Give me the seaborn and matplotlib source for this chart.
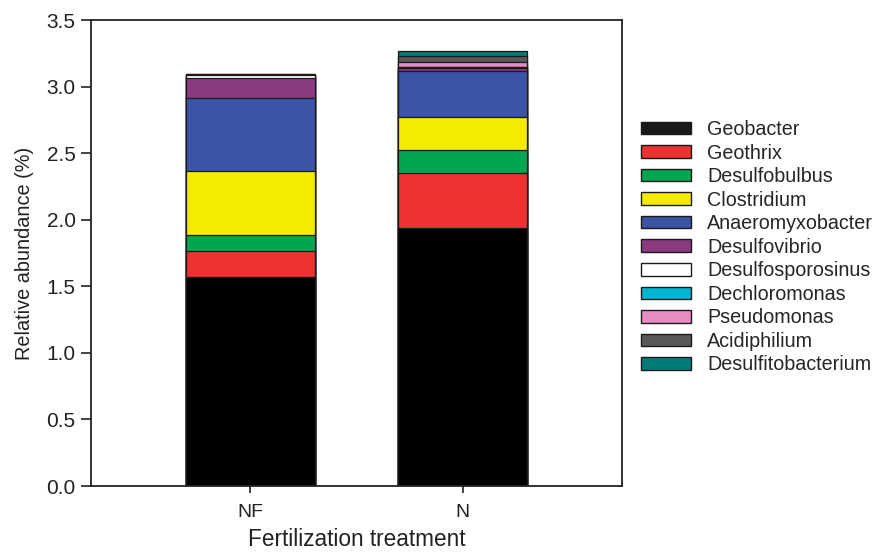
import numpy as np
import pandas as pd
import matplotlib
matplotlib.use("Agg")
import matplotlib.pyplot as plt
from matplotlib.patches import Patch
import seaborn as sns

treatments = ["NF", "N"]
genera = ["Geobacter", "Geothrix", "Desulfobulbus", "Clostridium", "Anaeromyxobacter",
          "Desulfovibrio", "Desulfosporosinus", "Dechloromonas", "Pseudomonas",
          "Acidiphilium", "Desulfitobacterium"]
nf_values = [1.571, 0.192, 0.124, 0.476, 0.554, 0.149, 0.020, 0.002, 0.002, 0.002, 0.002]
n_values = [1.940, 0.411, 0.172, 0.247, 0.347, 0.025, 0.004, 0.003, 0.037, 0.045, 0.035]
colors = ["#000000", "#EE3132", "#00A651", "#F5EB00", "#3B54A5", "#8B3A80",
          "#FFFFFF", "#00B5D1", "#E78CC0", "#585858", "#007B7A"]
legend_colors = ["#1a1a1a"] + colors[1:]

sns.set_theme(style="ticks")
plt.rcParams["font.family"] = ["Liberation Sans", "DejaVu Sans"]

fig = plt.figure(figsize=(8.76, 5.53), dpi=100)
ax = fig.add_axes([91 / 876, 1 - 486 / 553, (622 - 91) / 876, (486 - 20) / 553])

cum_nf = np.cumsum(nf_values)
cum_n = np.cumsum(n_values)
df = pd.DataFrame({
    "treatment": np.repeat(treatments, len(genera)),
    "genus": genera * 2,
    "cum": np.concatenate([cum_nf, cum_n]),
})

for i in range(len(genera) - 1, -1, -1):
    sub = df[df["genus"] == genera[i]]
    sns.barplot(data=sub, x="treatment", y="cum", order=treatments, color=colors[i],
                saturation=1, width=0.605, edgecolor="#1a1a1a", linewidth=0.9,
                errorbar=None, ax=ax)

ax.set_xlim(-0.75, 1.75)
ax.set_ylim(0, 3.5)
ax.set_yticks(np.arange(0, 3.51, 0.5))
ax.set_yticklabels([f"{v:.1f}" for v in np.arange(0, 3.51, 0.5)])
ax.set_xlabel("Fertilization treatment", fontsize=16.3, color="#222222", labelpad=5)
ax.set_ylabel("Relative abundance (%)", fontsize=14.3, color="#222222", labelpad=9)
ax.tick_params(axis="y", direction="out", length=7, width=1.2, labelsize=15,
               colors="#222222", pad=4)
ax.tick_params(axis="x", direction="out", length=5, width=1.2, labelsize=14,
               colors="#222222", pad=8)
for s in ax.spines.values():
    s.set_visible(True)
    s.set_linewidth(1.3)
    s.set_color("#222222")

handles = [Patch(facecolor=c, edgecolor="#1a1a1a", linewidth=1.0) for c in legend_colors]
fig.legend(handles, genera, loc="upper left", bbox_to_anchor=(641 / 876, 1 - 120 / 553),
           frameon=False, fontsize=14.2, handlelength=2.55, handleheight=0.6,
           handletextpad=0.8, labelspacing=0.23, borderpad=0, borderaxespad=0)

fig.savefig("out.png", dpi=100)
